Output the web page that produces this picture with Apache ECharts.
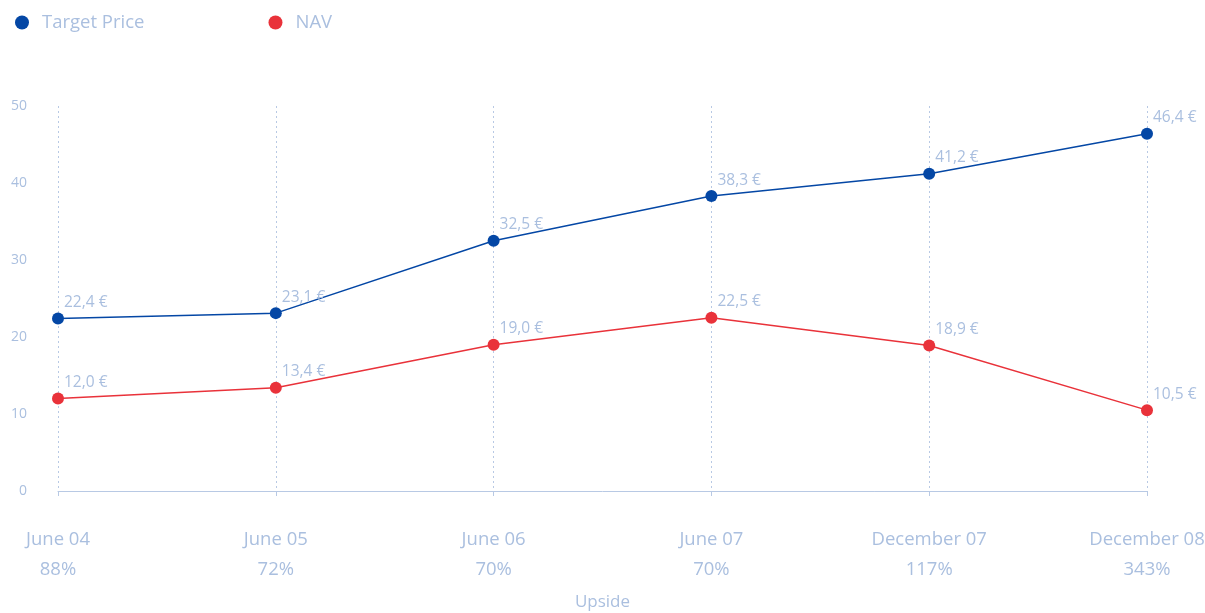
<!DOCTYPE html>
<html lang="en">
<head>
	<meta charset="UTF-8">
	<title>Target Price / NAV</title>
	<style>
		*{margin: 0; padding: 0; box-sizing: border-box;}
		body{background: #fff;}
		#view{width: 1205px; height: 613px;}
	</style>
</head>
<body>
	<div id="view"></div>
	<script src="https://cdn.jsdelivr.net/npm/echarts@6/dist/echarts.min.js"></script>
	<script>
	const dates = ['June 04', 'June 05', 'June 06', 'June 07', 'December 07', 'December 08'];
	const upside = ['88%', '72%', '70%', '70%', '117%', '343%'];
	const targetPrice = [22.4, 23.1, 32.5, 38.3, 41.2, 46.4];
	const nav = [12.0, 13.4, 19.0, 22.5, 18.9, 10.5];

	const pale = '#aabfdf';
	const lineCol = '#b8c9e4';
	const font = '"Open Sans", "Noto Sans", sans-serif';

	const lbl = {
		show: true,
		position: [12, -18],
		color: pale,
		fontSize: 15.5,
		fontFamily: font,
		formatter: p => p.value.toFixed(1).replace('.', ',') + ' €'
	};

	let option = {
		animation: false,
		textStyle: {fontFamily: font},
		legend: {
			left: 10, top: 8,
			icon: 'circle',
			itemWidth: 14, itemHeight: 14,
			itemGap: 124,
			textStyle: {color: pale, fontSize: 18.5, fontFamily: font, padding: [0, 0, 0, 8]},
			data: ['Target Price', 'NAV']
		},
		grid: {left: 58, right: 58, top: 106, bottom: 122, containLabel: false, outerBoundsMode: 'none'},
		xAxis: {
			type: 'category',
			boundaryGap: false,
			data: dates,
			name: 'Upside',
			nameLocation: 'middle',
			nameGap: 103,
			nameTextStyle: {color: pale, fontSize: 17},
			axisLine: {lineStyle: {color: lineCol, width: 1}},
			axisTick: {show: true, length: 5, lineStyle: {color: lineCol}},
			axisLabel: {
				margin: 34,
				color: pale,
				fontSize: 18.5,
				lineHeight: 30,
				formatter: (v, i) => v + '\n' + upside[i]
			},
			splitLine: {show: true, lineStyle: {color: lineCol, type: [2, 3], width: 1}}
		},
		yAxis: {
			type: 'value',
			min: 0, max: 50, interval: 10,
			axisLine: {show: false},
			axisTick: {show: false},
			splitLine: {show: false},
			axisLabel: {color: pale, fontSize: 14, margin: 31}
		},
		series: [
			{
				name: 'Target Price', type: 'line', data: targetPrice,
				color: '#0447a5',
				symbol: 'circle', symbolSize: 12,
				lineStyle: {width: 1.5},
				label: lbl
			},
			{
				name: 'NAV', type: 'line', data: nav,
				color: '#e9323a',
				symbol: 'circle', symbolSize: 12,
				lineStyle: {width: 1.5},
				label: lbl
			}
		]
	};
	var myChart = echarts.init(document.getElementById('view'));
	myChart.setOption(option);
	</script>
</body>
</html>
